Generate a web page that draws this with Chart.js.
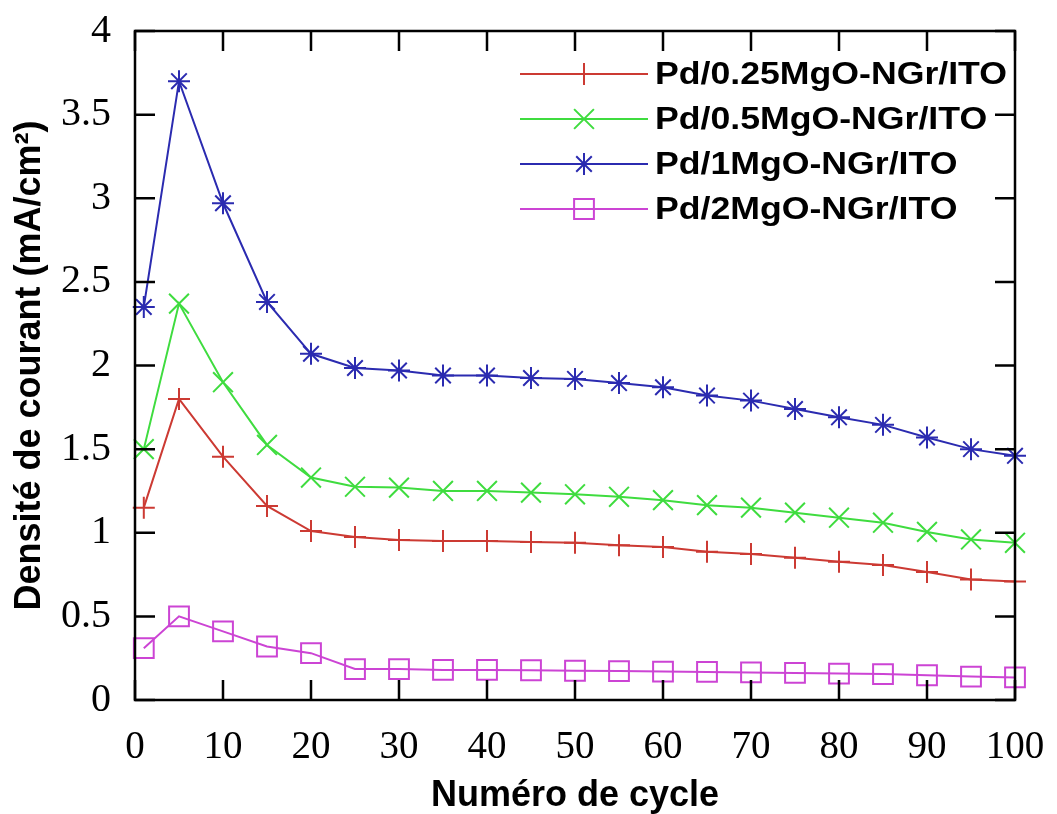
<!DOCTYPE html>
<html>
<head>
<meta charset="utf-8">
<script src="https://cdn.jsdelivr.net/npm/chart.js@4/dist/chart.umd.min.js"></script>
<style>
  html, body { margin: 0; padding: 0; background: #ffffff; }
  #wrap { width: 1057px; height: 814px; position: relative; }
</style>
</head>
<body>
<div id="wrap"><canvas id="c" width="1057" height="814"></canvas></div>
<script>
// ---- data ----
const cycles = [1, 5, 10, 15, 20, 25, 30, 35, 40, 45, 50, 55, 60, 65, 70, 75, 80, 85, 90, 95, 100];
const pd025 = [1.15, 1.80, 1.455, 1.16, 1.01, 0.975, 0.957, 0.95, 0.95, 0.945, 0.94, 0.925, 0.915, 0.887, 0.873, 0.85, 0.827, 0.807, 0.765, 0.72, 0.708];
const pd05  = [1.50, 2.37, 1.90, 1.525, 1.33, 1.275, 1.27, 1.25, 1.25, 1.24, 1.23, 1.215, 1.195, 1.165, 1.15, 1.12, 1.09, 1.06, 1.005, 0.96, 0.94];
const pd1   = [2.35, 3.70, 2.97, 2.38, 2.07, 1.985, 1.97, 1.94, 1.94, 1.925, 1.92, 1.895, 1.87, 1.82, 1.79, 1.74, 1.69, 1.645, 1.57, 1.50, 1.46];
const pd2   = [0.31, 0.50, 0.41, 0.32, 0.28, 0.185, 0.185, 0.18, 0.18, 0.178, 0.175, 0.173, 0.17, 0.168, 0.165, 0.162, 0.158, 0.155, 0.148, 0.14, 0.135];
const seriesNames = ['Pd/0.25MgO-NGr/ITO', 'Pd/0.5MgO-NGr/ITO', 'Pd/1MgO-NGr/ITO', 'Pd/2MgO-NGr/ITO'];
const xTickValues = [0, 10, 20, 30, 40, 50, 60, 70, 80, 90, 100];
const xTickLabels = ['0', '10', '20', '30', '40', '50', '60', '70', '80', '90', '100'];
const yTickValues = [0, 0.5, 1, 1.5, 2, 2.5, 3, 3.5, 4];
const yTickLabels = ['0', '0.5', '1', '1.5', '2', '2.5', '3', '3.5', '4'];
const xTitle = 'Numéro de cycle';
const yTitle = 'Densité de courant (mA/cm²)';

// ---- styles ----
const styles = [
  { color: '#cc3a33', pointStyle: 'cross',    radius: 11 },
  { color: '#3fdc3f', pointStyle: 'crossRot', radius: 14 },
  { color: '#2b2bb0', pointStyle: 'star',     radius: 11 },
  { color: '#cc44d4', pointStyle: 'rect',     radius: 14 }
];
const allSeries = [pd025, pd05, pd1, pd2];

const datasets = allSeries.map((vals, i) => ({
  label: seriesNames[i],
  data: cycles.map((c, k) => ({ x: c, y: vals[k] })),
  borderColor: styles[i].color,
  backgroundColor: 'rgba(0,0,0,0)',
  borderWidth: 2,
  pointStyle: styles[i].pointStyle,
  pointRadius: styles[i].radius,
  pointHoverRadius: styles[i].radius,
  pointBorderColor: styles[i].color,
  pointBackgroundColor: 'rgba(0,0,0,0)',
  pointBorderWidth: 2,
  tension: 0,
  clip: false
}));

function drawMarker(ctx, style, r, x, y) {
  ctx.beginPath();
  const d = Math.SQRT1_2 * r;
  if (style === 'cross' || style === 'star') {
    ctx.moveTo(x, y - r); ctx.lineTo(x, y + r);
    ctx.moveTo(x - r, y); ctx.lineTo(x + r, y);
  }
  if (style === 'crossRot' || style === 'star') {
    ctx.moveTo(x - d, y - d); ctx.lineTo(x + d, y + d);
    ctx.moveTo(x - d, y + d); ctx.lineTo(x + d, y - d);
  }
  if (style === 'rect') {
    ctx.rect(x - d, y - d, 2 * d, 2 * d);
  }
  ctx.stroke();
}

// frame with inward ticks on all sides (gnuplot style)
const framePlugin = {
  id: 'frame',
  afterDatasetsDraw(chart) {
    const { ctx, chartArea: a, scales } = chart;
    ctx.save();
    ctx.strokeStyle = '#000';
    ctx.lineWidth = 2.5;
    ctx.strokeRect(a.left, a.top, a.right - a.left, a.bottom - a.top);
    const tl = 20;
    ctx.beginPath();
    xTickValues.forEach(v => {
      const px = scales.x.getPixelForValue(v);
      ctx.moveTo(px, a.bottom); ctx.lineTo(px, a.bottom - tl);
      ctx.moveTo(px, a.top); ctx.lineTo(px, a.top + tl);
    });
    yTickValues.forEach(v => {
      const py = scales.y.getPixelForValue(v);
      ctx.moveTo(a.left, py); ctx.lineTo(a.left + tl, py);
      ctx.moveTo(a.right, py); ctx.lineTo(a.right - tl, py);
    });
    ctx.stroke();
    ctx.restore();
  }
};

// legend inside the plot, top right
const legendPlugin = {
  id: 'insideLegend',
  afterDatasetsDraw(chart) {
    const { ctx } = chart;
    const rows = [74, 119, 164, 209];
    const x0 = 520, x1 = 648, xm = 584, xt = 655;
    ctx.save();
    chart.data.datasets.forEach((ds, i) => {
      const y = rows[i];
      const s = styles[i];
      ctx.strokeStyle = s.color;
      ctx.lineWidth = 2;
      ctx.beginPath(); ctx.moveTo(x0, y); ctx.lineTo(x1, y); ctx.stroke();
      drawMarker(ctx, s.pointStyle, s.radius, xm, y);
      ctx.save();
      ctx.translate(xt, y);
      ctx.scale(1.15, 1);
      ctx.fillStyle = '#000';
      ctx.font = 'bold 31px "Liberation Sans", Arial, sans-serif';
      ctx.textAlign = 'left';
      ctx.textBaseline = 'middle';
      ctx.fillText(ds.label, 0, 1);
      ctx.restore();
    });
    ctx.restore();
  }
};

new Chart(document.getElementById('c'), {
  type: 'line',
  data: { datasets },
  plugins: [framePlugin, legendPlugin],
  options: {
    responsive: false,
    animation: false,
    events: [],
    layout: { autoPadding: false, padding: { top: 31, right: 42, bottom: 0, left: 0 } },
    plugins: { legend: { display: false }, tooltip: { enabled: false } },
    scales: {
      x: {
        type: 'linear',
        min: 0, max: 100,
        afterBuildTicks: s => { s.ticks = xTickValues.map(v => ({ value: v })); },
        afterFit: s => { s.height = 114; s.paddingLeft = 0; s.paddingRight = 0; },
        grid: { display: false, drawTicks: false },
        border: { display: false },
        ticks: {
          callback: (v, i) => xTickLabels[i],
          color: '#000',
          padding: 24,
          maxRotation: 0,
          font: { family: '"Liberation Serif", "Times New Roman", serif', size: 39 }
        },
        title: {
          display: true,
          text: xTitle,
          color: '#000',
          padding: { top: 0, bottom: -4 },
          font: { family: '"Liberation Sans", Arial, sans-serif', size: 36, weight: 'bold' }
        }
      },
      y: {
        type: 'linear',
        min: 0, max: 4,
        afterBuildTicks: s => { s.ticks = yTickValues.map(v => ({ value: v })); },
        afterFit: s => { s.width = 135; s.paddingTop = 0; s.paddingBottom = 0; },
        grid: { display: false, drawTicks: false },
        border: { display: false },
        ticks: {
          callback: (v, i) => yTickLabels[i],
          color: '#000',
          padding: 24,
          font: { family: '"Liberation Serif", "Times New Roman", serif', size: 40 }
        },
        title: {
          display: true,
          text: yTitle,
          color: '#000',
          padding: { top: 8, bottom: 0 },
          font: { family: '"Liberation Sans", Arial, sans-serif', size: 36, weight: 'bold' }
        }
      }
    }
  }
});
</script>
</body>
</html>
